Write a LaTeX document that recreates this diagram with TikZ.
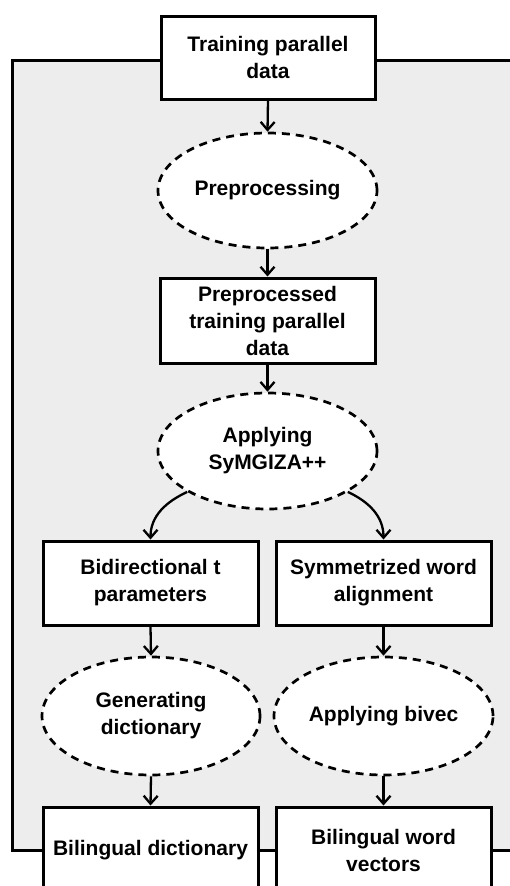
\documentclass[tikz,border=0pt]{standalone}
\usepackage{fontspec}
\setmainfont{Liberation Sans}
\usetikzlibrary{shapes.geometric,arrows.meta}

\tikzset{
  base/.style={draw=black, fill=white, align=center, inner sep=0pt,
    font=\fontsize{21}{27}\selectfont\bfseries},
  box/.style={base, rectangle, line width=3pt, minimum width=215pt, minimum height=84pt},
  proc/.style={base, ellipse, line width=2.7pt, dash pattern=on 8pt off 6pt,
    minimum width=219pt, minimum height=116pt},
  arr/.style={line width=2.3pt, -{Straight Barb[length=8pt,width=14pt,line width=2.3pt]}},
  frame/.style={draw=black, fill=black!7, line width=3pt}
}

\begin{document}
\begin{tikzpicture}[x=1pt, y=1pt]
  \useasboundingbox (0,0) rectangle (510,-886);

  % shaded frame behind the flow
  \draw[frame] (12,-60) rectangle (525,-850);

  % main column
  \node[box, minimum width=214pt, minimum height=83pt] (train) at (268,-57.5) {Training parallel\\data};
  \node[proc, minimum height=115pt] (pre) at (267.5,-190.5) {Preprocessing};
  \node[box, minimum height=85pt] (ppd) at (267.5,-320.5) {Preprocessed\\training parallel\\data};
  \node[proc] (app) at (267.5,-451) {Applying\\SyMGIZA++};

  % two branches
  \node[box] (bid) at (150.5,-583) {Bidirectional t\\parameters};
  \node[box] (sym) at (383.5,-583) {Symmetrized word\\alignment};
  \node[proc, minimum width=218pt, minimum height=118pt] (gen) at (151,-716) {Generating\\dictionary};
  \node[proc, minimum height=118pt] (biv) at (383.5,-716) {Applying bivec};
  \node[box, minimum height=86pt] (dic) at (150.5,-850) {Bilingual dictionary};
  \node[box, minimum height=86pt] (vec) at (383.5,-850) {Bilingual word\\vectors};

  % connectors
  \draw[arr] (train.south) -- (pre.north);
  \draw[arr] (pre.south) -- (ppd.north);
  \draw[arr] (ppd.south) -- (app.north);
  \draw[arr] (app.207) to[out=205, in=90] (bid.north);
  \draw[arr] (app.333) to[out=-25, in=90] (sym.north);
  \draw[arr] (bid.south) -- (gen.north);
  \draw[arr] (sym.south) -- (biv.north);
  \draw[arr] (gen.south) -- (dic.north);
  \draw[arr] (biv.south) -- (vec.north);
\end{tikzpicture}
\end{document}
